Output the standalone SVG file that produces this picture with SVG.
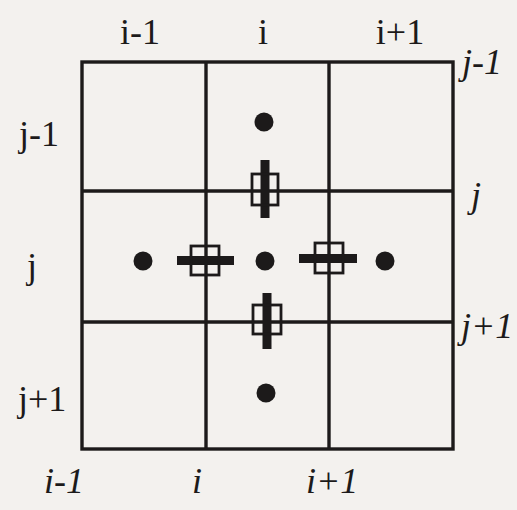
<svg xmlns="http://www.w3.org/2000/svg" width="517" height="510" viewBox="0 0 517 510">
<style>
.grid{stroke:#1c1a1a;stroke-width:3.4;fill:none}
.bar{fill:#1c1a1a}
.box{fill:none;stroke:#1c1a1a;stroke-width:2.8}
.dot{fill:#1c1a1a}
.lab{font-family:"Liberation Serif",serif;font-size:36px;fill:#1c1a1a}
.it{font-style:italic}
</style>
<rect width="517" height="510" fill="#f3f1ee"/>
<g id="grid">
<rect class="grid" x="82" y="62" width="371" height="387"/>
<line class="grid" x1="206" y1="62" x2="206" y2="449"/>
<line class="grid" x1="329" y1="62" x2="329" y2="449"/>
<line class="grid" x1="82" y1="191" x2="453" y2="191"/>
<line class="grid" x1="82" y1="322" x2="453" y2="322"/>
</g>
<g id="dots">
<circle class="dot" cx="264" cy="122" r="9.5"/>
<circle class="dot" cx="265" cy="261" r="9.5"/>
<circle class="dot" cx="266" cy="393" r="9.5"/>
<circle class="dot" cx="143" cy="261" r="9.5"/>
<circle class="dot" cx="385" cy="261" r="9.5"/>
</g>
<g id="marker-top">
<rect class="bar" x="260.5" y="160" width="9" height="58"/>
<rect class="box" x="252" y="174" width="26" height="31"/>
</g>
<g id="marker-bottom">
<rect class="bar" x="262.5" y="293" width="9" height="56"/>
<rect class="box" x="253" y="305" width="28" height="29"/>
</g>
<g id="marker-left">
<rect class="bar" x="177" y="256" width="57" height="9"/>
<rect class="box" x="191" y="246" width="28" height="29"/>
</g>
<g id="marker-right">
<rect class="bar" x="299" y="254" width="58" height="9"/>
<rect class="box" x="315" y="243" width="28" height="30"/>
</g>
<g id="labels">
<text class="lab" x="140" y="44" text-anchor="middle">i-1</text>
<text class="lab" x="263" y="44" text-anchor="middle">i</text>
<text class="lab" x="400" y="44" text-anchor="middle">i+1</text>
<text class="lab" x="19" y="146">j-1</text>
<text class="lab" x="27" y="278">j</text>
<text class="lab" x="18" y="411">j+1</text>
<text class="lab it" x="462" y="74">j-1</text>
<text class="lab it" x="471" y="207">j</text>
<text class="lab it" x="461" y="338">j+1</text>
<text class="lab it" x="44" y="493">i-1</text>
<text class="lab it" x="192" y="493">i</text>
<text class="lab it" x="306" y="493">i+1</text>
</g>
</svg>
